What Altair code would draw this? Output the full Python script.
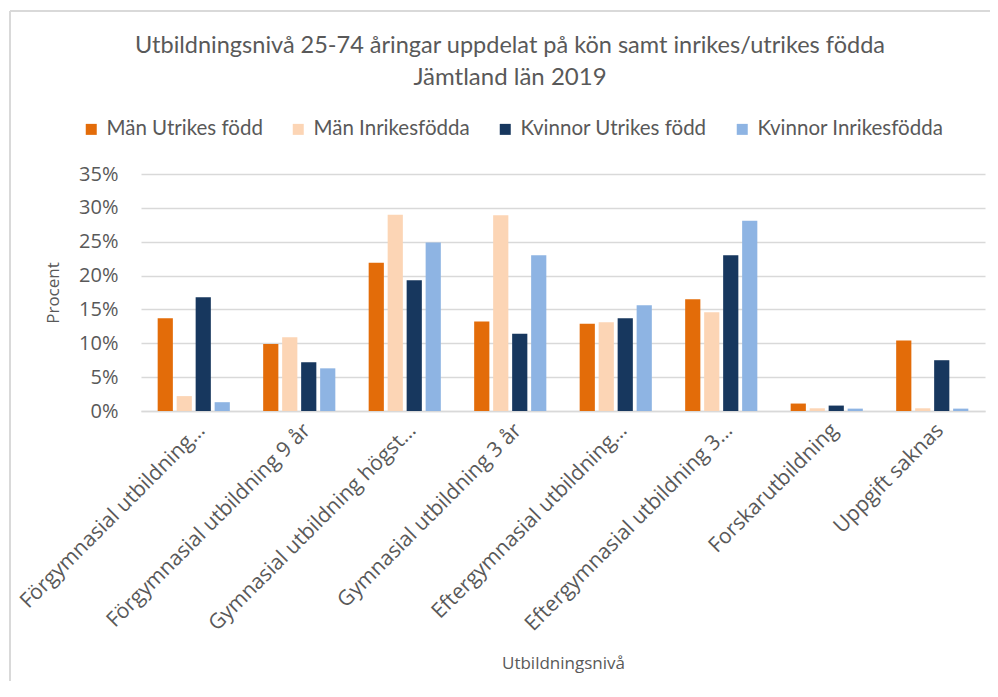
import altair as alt
import pandas as pd

categories = [
    "Förgymnasial utbildning…",
    "Förgymnasial utbildning 9 år",
    "Gymnasial utbildning högst…",
    "Gymnasial utbildning 3 år",
    "Eftergymnasial utbildning…",
    "Eftergymnasial utbildning 3…",
    "Forskarutbildning",
    "Uppgift saknas",
]
series = ["Män Utrikes född", "Män Inrikesfödda", "Kvinnor Utrikes född", "Kvinnor Inrikesfödda"]
man_utrikes = [13.7, 9.9, 21.9, 13.2, 12.9, 16.5, 1.1, 10.4]
man_inrikes = [2.2, 10.9, 29.0, 28.9, 13.1, 14.6, 0.4, 0.4]
kvinnor_utrikes = [16.8, 7.2, 19.3, 11.4, 13.7, 23.0, 0.8, 7.5]
kvinnor_inrikes = [1.3, 6.3, 24.9, 23.0, 15.6, 28.1, 0.35, 0.35]
colors = ["#E36C09", "#FCD5B5", "#17375E", "#8EB4E3"]
y_ticks = [0, 0.05, 0.10, 0.15, 0.20, 0.25, 0.30, 0.35]

rows = []
for s, vals in zip(series, [man_utrikes, man_inrikes, kvinnor_utrikes, kvinnor_inrikes]):
    for c, v in zip(categories, vals):
        rows.append({"Utbildningsnivå": c, "Grupp": s, "Andel": v / 100})
df = pd.DataFrame(rows)

TXT = "#595959"

bars = (
    alt.Chart(df)
    .mark_bar()
    .encode(
        x=alt.X(
            "Utbildningsnivå:N",
            sort=categories,
            scale=alt.Scale(paddingInner=0.28, paddingOuter=0.14),
            axis=alt.Axis(
                title="Utbildningsnivå",
                labelAngle=-45,
                labelAlign="right",
                labelBaseline="middle",
                labelOffset=8,
                labelPadding=16,
                labelFont="Open Sans",
                labelFontSize=21,
                labelColor=TXT,
                labelLimit=400,
                titleFont="Open Sans",
                titleFontSize=17,
                titleFontWeight="normal",
                titleColor=TXT,
                titlePadding=44,
                ticks=False,
                domainColor="#D9D9D9",
                domainWidth=1.5,
                grid=False,
            ),
        ),
        xOffset=alt.XOffset(
            "Grupp:N", sort=series, scale=alt.Scale(paddingInner=0.2, paddingOuter=0.1)
        ),
        y=alt.Y(
            "Andel:Q",
            scale=alt.Scale(domain=[0, 0.35], nice=False),
            axis=alt.Axis(
                title="Procent",
                values=y_ticks,
                format=".0%",
                labelFont="Open Sans",
                labelFontSize=20,
                labelColor=TXT,
                labelPadding=23,
                titleFont="Open Sans",
                titleFontSize=17,
                titleFontWeight="normal",
                titleColor=TXT,
                titlePadding=16,
                ticks=False,
                domain=False,
                gridColor="#D9D9D9",
                gridWidth=1.5,
            ),
        ),
        color=alt.Color(
            "Grupp:N",
            sort=series,
            scale=alt.Scale(domain=series, range=colors),
            legend=alt.Legend(
                title=None,
                orient="none",
                direction="horizontal",
                legendX=-60,
                legendY=-55,
                symbolType="square",
                symbolSize=121,
                symbolStrokeWidth=0,
                labelFont="Lato",
                labelFontSize=20.5,
                labelColor=TXT,
                labelOffset=5,
                columnPadding=25,
                labelLimit=300,
            ),
        ),
    )
)

# light outer frame of the chart (top and left edges, as in the reference)
frame_top = (
    alt.Chart(alt.Data(values=[{}]))
    .mark_rule(stroke="#D9D9D9", strokeWidth=2)
    .encode(x=alt.value(-131), x2=alt.value(900), y=alt.value(-163))
)
frame_left = (
    alt.Chart(alt.Data(values=[{}]))
    .mark_rule(stroke="#D9D9D9", strokeWidth=2)
    .encode(x=alt.value(-131), y=alt.value(-163), y2=alt.value(507))
)

chart = (
    alt.layer(frame_top, frame_left, bars)
    .properties(
        width=844,
        height=237,
        padding={"left": 133, "top": 166, "right": 5, "bottom": 270},
        autosize=alt.AutoSizeParams(type="none"),
        title=alt.TitleParams(
            text="Utbildningsnivå 25-74 åringar uppdelat på kön samt inrikes/utrikes födda",
            subtitle="Jämtland län 2019",
            font="Lato",
            fontSize=23.5,
            fontWeight="normal",
            color=TXT,
            subtitleFont="Lato",
            subtitleFontSize=24,
            subtitleColor=TXT,
            subtitlePadding=9,
            anchor="middle",
            frame="group",
            dx=-53,
            offset=-80,
        ),
    )
    .configure_view(stroke=None)
)

chart.save("out.html", embed_options={"renderer": "svg", "actions": False})
